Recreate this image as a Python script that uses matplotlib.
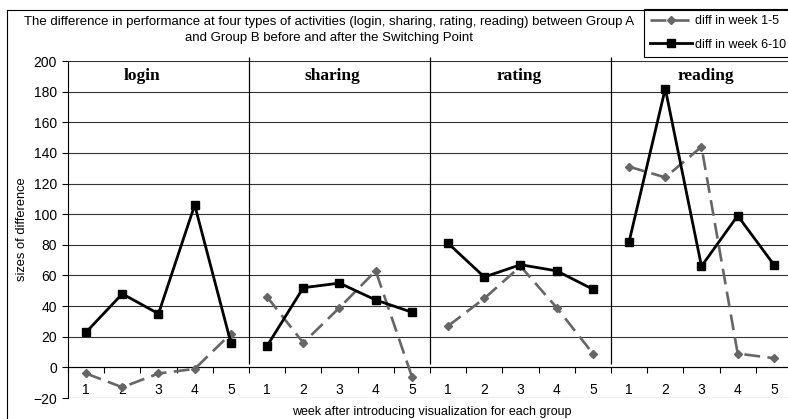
import matplotlib
matplotlib.use('Agg')
import matplotlib.pyplot as plt
from matplotlib.lines import Line2D

plt.rcParams['font.family'] = ['Liberation Sans', 'DejaVu Sans']

# values, one list per activity and period
activities = ['login', 'sharing', 'rating', 'reading']
weeks = [1, 2, 3, 4, 5]

login_1_5 = [-4, -13, -4, -1, 22]
login_6_10 = [23, 48, 35, 106, 16]
sharing_1_5 = [46, 16, 39, 63, -6]
sharing_6_10 = [14, 52, 55, 44, 36]
rating_1_5 = [27, 45, 66, 39, 9]
rating_6_10 = [81, 59, 67, 63, 51]
reading_1_5 = [131, 124, 144, 9, 6]
reading_6_10 = [82, 182, 66, 99, 67]

early = [login_1_5, sharing_1_5, rating_1_5, reading_1_5]
late = [login_6_10, sharing_6_10, rating_6_10, reading_6_10]

W, H = 788, 419
fig = plt.figure(figsize=(W / 100, H / 100), dpi=100)
ax = fig.add_axes([68 / W, 21 / H, 720 / W, 337 / H])

gray = '#666666'
for i, name in enumerate(activities):
    x = [5 * i + w for w in weeks]
    g, = ax.plot(x, early[i], color=gray, lw=1.9, dashes=(6, 2.8),
                 marker='D', ms=4.5, mfc=gray, mec=gray, zorder=3)
    b, = ax.plot(x, late[i], color='black', lw=2.0,
                 marker='s', ms=5.5, mfc='black', mec='black', zorder=4)

ax.set_xlim(0.5, 20.39)
ax.set_ylim(-20, 200)

# y axis
ax.set_yticks(range(-20, 201, 20))
ax.tick_params(axis='y', direction='out', length=4, width=0.8, pad=4, labelsize=10)
ax.yaxis.grid(True, color='#333333', lw=0.8)
ax.set_axisbelow(True)

# x axis sits on y = 0, ticks between weeks, labels at weeks
ax.spines['bottom'].set_position(('data', 0))
ax.spines['top'].set_visible(False)
ax.spines['right'].set_visible(False)
ax.set_xticks([k + 0.5 for k in range(20)])
ax.set_xticklabels([])
ax.set_xticks(range(1, 21), minor=True)
ax.set_xticklabels([str(w) for w in weeks] * 4, minor=True)
ax.tick_params(axis='x', which='major', direction='out', length=4, width=0.8)
ax.tick_params(axis='x', which='minor', length=0, pad=11, labelsize=10)

# panel separators and titles
ax.vlines([5.5, 10.5, 15.5], 2.5, 202.5, color='black', lw=0.9, clip_on=False)
label_x = [2.54, 7.79, 12.96, 18.11]
for name, lx in zip(activities, label_x):
    ax.text(lx, 190.5, name, ha='center', va='center', fontsize=12.5,
            fontweight='bold', family='Liberation Serif')

ax.set_ylabel('sizes of difference', fontsize=9.3)
ax.yaxis.set_label_coords(-(68 - 28) / 720, 0.5)
fig.text(432 / W, 1 - 412 / H, 'week after introducing visualization for each group',
         ha='center', va='center', fontsize=9)

fig.text(329 / W, 1 - 30 / H,
         'The difference in performance at four types of activities (login, sharing, rating, reading) between Group A\n'
         'and Group B before and after the Switching Point',
         ha='center', va='center', fontsize=9.5, linespacing=1.45)

leg = ax.legend([g, b], ['diff in week 1-5', 'diff in week 6-10'],
                loc='upper left', bbox_to_anchor=(644 / W, 1 - 9 / H),
                bbox_transform=fig.transFigure, fontsize=9, frameon=True,
                fancybox=False, edgecolor='black', framealpha=1,
                handlelength=3.3, handletextpad=0.25, borderpad=0.5,
                labelspacing=0.9, borderaxespad=0)
leg.get_frame().set_linewidth(0.8)

# outer chart border (cut off at right and bottom)
fig.add_artist(Line2D([7 / W, 7 / W], [0, 1 - 10 / H], transform=fig.transFigure,
                      color='black', lw=0.8))
fig.add_artist(Line2D([7 / W, 1], [1 - 10 / H, 1 - 10 / H], transform=fig.transFigure,
                      color='black', lw=0.8))

fig.savefig('out.png', dpi=100)
